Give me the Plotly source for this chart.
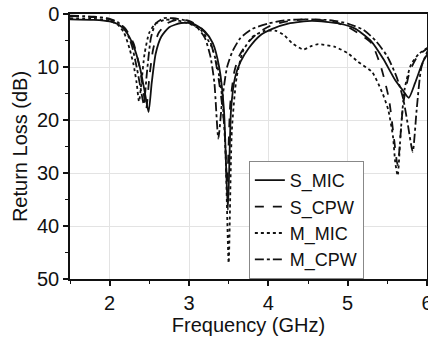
import plotly.graph_objects as go

# ---- data ----
s_mic_f = [1.5, 1.8, 2.0, 2.1, 2.2, 2.3, 2.38, 2.44, 2.49, 2.53, 2.58, 2.65, 2.75, 2.9, 3.05, 3.2, 3.3, 3.38, 3.44, 3.49,
           3.53, 3.58, 3.65, 3.75, 3.9, 4.05, 4.25, 4.55, 4.9, 5.1, 5.3, 5.45, 5.6, 5.7, 5.77, 5.85, 5.95, 6.05]
s_mic_db = [1.0, 1.1, 1.4, 1.9, 3.2, 6.0, 10.0, 14.5, 18.5, 13.0, 7.5, 4.3, 2.5, 1.7, 1.8, 3.3, 5.5, 10.0, 18.0, 37.0,
            18.0, 12.0, 9.0, 6.5, 4.0, 2.8, 1.8, 1.3, 1.8, 2.8, 5.2, 8.5, 12.5, 14.5, 15.8, 13.0, 9.0, 6.5]

s_cpw_f = [1.5, 1.8, 2.0, 2.1, 2.2, 2.3, 2.37, 2.42, 2.46, 2.5, 2.55, 2.62, 2.72, 2.85, 3.0, 3.15, 3.25, 3.33, 3.4,
           3.45, 3.48, 3.52, 3.57, 3.63, 3.72, 3.85, 4.0, 4.2, 4.5, 4.8, 5.0, 5.15, 5.3, 5.42, 5.52, 5.58, 5.63,
           5.7, 5.78, 5.88, 6.05]
s_cpw_db = [0.4, 0.6, 1.0, 1.6, 2.8, 5.5, 9.5, 14.0, 18.0, 12.0, 6.5, 3.5, 1.8, 1.1, 1.3, 2.6, 4.5, 8.5, 15.0,
            22.0, 32.0, 17.0, 11.0, 8.0, 5.8, 3.8, 2.4, 1.5, 1.0, 1.4, 2.4, 3.8, 5.5, 10.0, 16.0, 23.0, 28.5,
            17.0, 11.0, 8.0, 6.0]

m_mic_f = [1.5, 1.8, 2.0, 2.1, 2.18, 2.25, 2.3, 2.34, 2.37, 2.4, 2.44, 2.5, 2.58, 2.7, 2.85, 3.0, 3.15, 3.28, 3.36,
           3.42, 3.46, 3.5, 3.54, 3.6, 3.68, 3.8, 3.95, 4.1, 4.2, 4.3, 4.44, 4.55, 4.63, 4.84, 5.0, 5.13, 5.31,
           5.44, 5.51, 5.57, 5.6, 5.63, 5.67, 5.72, 5.8, 5.9, 6.05]
m_mic_db = [0.8, 0.9, 1.3, 2.0, 3.5, 6.5, 9.5, 13.0, 16.5, 13.0, 7.5, 3.5, 1.8, 1.1, 1.2, 1.8, 3.0, 6.0, 10.0,
            16.0, 26.0, 47.0, 22.0, 12.0, 7.0, 4.3, 3.2, 3.2, 4.0, 5.5, 6.7, 6.0, 5.7, 6.2, 7.4, 9.0, 11.0,
            15.0, 18.0, 23.0, 28.0, 30.5, 22.0, 14.0, 9.5, 7.5, 6.0]

m_cpw_f = [1.5, 1.8, 2.0, 2.1, 2.2, 2.28, 2.34, 2.39, 2.43, 2.47, 2.52, 2.58, 2.68, 2.8, 2.95, 3.1, 3.2, 3.27, 3.32,
           3.37, 3.42, 3.48, 3.55, 3.65, 3.8, 4.0, 4.2, 4.5, 4.8, 5.0, 5.2, 5.35, 5.5, 5.62, 5.7, 5.76, 5.82,
           5.87, 5.93, 6.05]
m_cpw_db = [0.3, 0.5, 0.9, 1.5, 3.0, 6.0, 10.0, 14.0, 17.0, 11.0, 4.5, 1.8, 0.8, 0.8, 1.2, 2.5, 4.5, 8.0, 13.0,
            23.5, 16.0, 10.0, 7.0, 4.5, 2.8, 1.8, 1.2, 1.0, 1.2, 1.8, 3.0, 5.0, 8.0, 12.0, 16.0, 21.0, 26.0,
            18.0, 10.0, 5.5]

series = [
    ("S_MIC", s_mic_f, s_mic_db, "solid"),
    ("S_CPW", s_cpw_f, s_cpw_db, "dash"),
    ("M_MIC", m_mic_f, m_mic_db, "dot"),
    ("M_CPW", m_cpw_f, m_cpw_db, "dashdot"),
]

x_ticks = [2, 3, 4, 5, 6]
y_ticks = [0, 10, 20, 30, 40, 50]

FONT = "Liberation Sans, Arial, sans-serif"

fig = go.Figure()
for name, f, db, dash in series:
    fig.add_trace(go.Scatter(
        x=f, y=db, name=name, mode="lines",
        line=dict(color="#111111", width=1.8, dash=dash, shape="spline", smoothing=0.6),
    ))

fig.update_layout(
    width=428, height=337,
    margin=dict(l=70, r=1, t=14, b=58),
    paper_bgcolor="white", plot_bgcolor="white",
    font=dict(family=FONT, size=20, color="#111111"),
    showlegend=True,
    legend=dict(
        x=0.501, y=0, xanchor="left", yanchor="bottom",
        bgcolor="white", bordercolor="#888888", borderwidth=1,
        font=dict(family=FONT, size=18, color="#111111"),
        itemwidth=30, tracegroupgap=0,
    ),
)

fig.update_xaxes(
    range=[1.5, 6], tickvals=x_ticks, ticktext=[str(v) for v in x_ticks],
    ticklabeloverflow="allow", automargin=False,
    showgrid=True, gridcolor="#e3e3e3", gridwidth=1,
    showline=True, linecolor="#111111", linewidth=1.5, mirror=True,
    ticks="outside", ticklen=5, tickwidth=1.5, tickcolor="#111111",
    minor=dict(dtick=0.5, tick0=1.5, ticks="outside", ticklen=3, tickwidth=1.2, tickcolor="#111111", showgrid=False),
    title=dict(text="Frequency (GHz)", font=dict(size=20), standoff=3),
    zeroline=False,
)
fig.update_yaxes(
    range=[50, 0], tickvals=y_ticks, ticktext=[str(v) for v in y_ticks],
    ticklabeloverflow="allow", automargin=False,
    showgrid=True, gridcolor="#e3e3e3", gridwidth=1,
    showline=True, linecolor="#111111", linewidth=1.5, mirror=True,
    ticks="outside", ticklen=5, tickwidth=1.5, tickcolor="#111111",
    minor=dict(dtick=5, tick0=0, ticks="outside", ticklen=3, tickwidth=1.2, tickcolor="#111111", showgrid=False),
    title=dict(text="Return Loss (dB)", font=dict(size=20), standoff=4),
    zeroline=False,
)

fig.write_html("out.html")
